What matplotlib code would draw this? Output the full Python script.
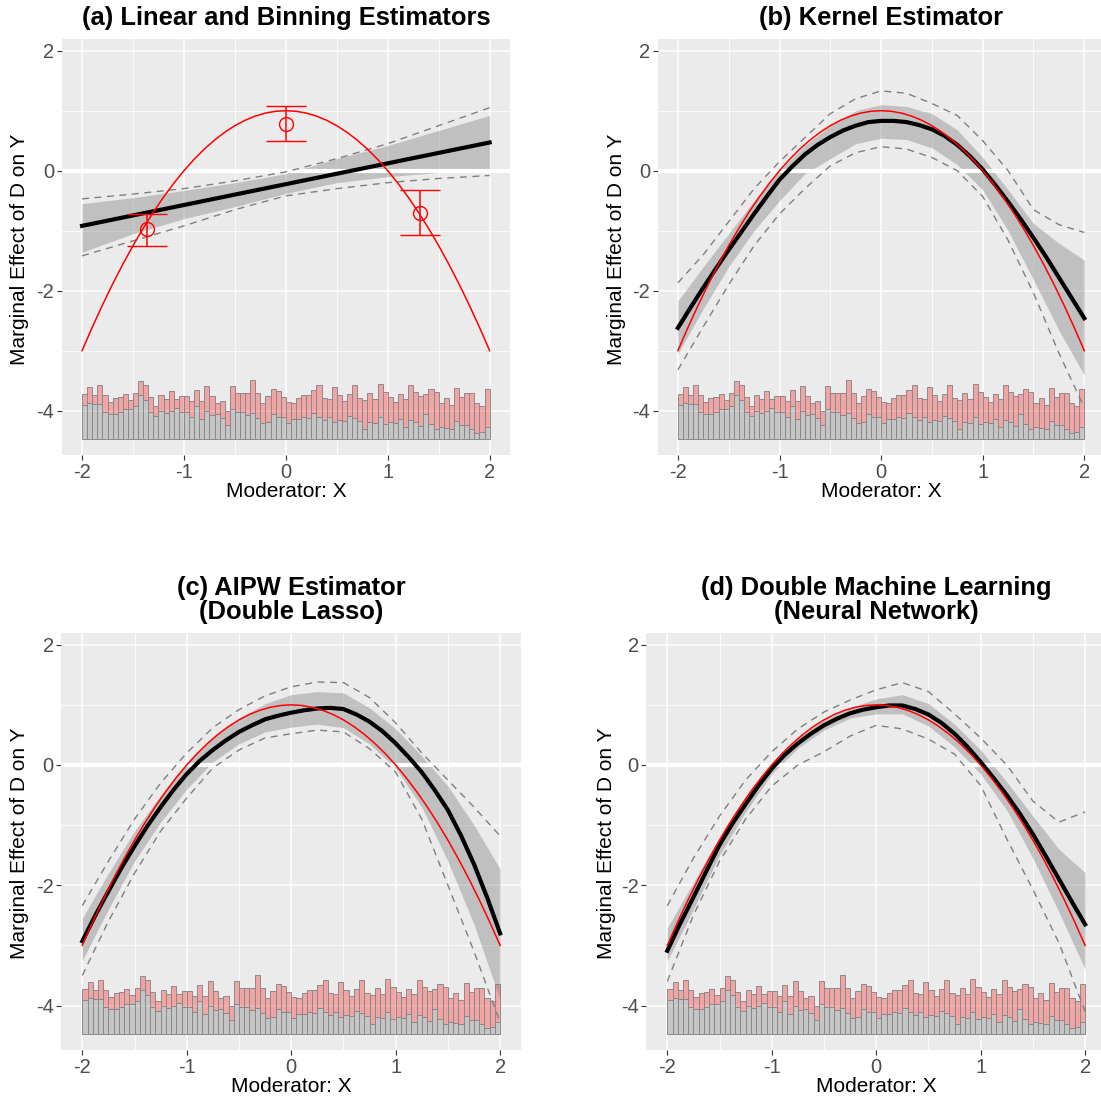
import numpy as np
import matplotlib
matplotlib.use("Agg")
import matplotlib.pyplot as plt

plt.rcParams['font.family'] = ['Liberation Sans', 'DejaVu Sans']

# ---- data ----
TITLES = ["(a) Linear and Binning Estimators", "(b) Kernel Estimator",
          "(c) AIPW Estimator\n(Double Lasso)",
          "(d) Double Machine Learning\n(Neural Network)"]

# true effect (red curve)
TRUE_X = [-2.0, -1.9, -1.8, -1.7, -1.6, -1.5, -1.4, -1.3, -1.2, -1.1, -1.0,
          -0.9, -0.8, -0.7, -0.6, -0.5, -0.4, -0.3, -0.2, -0.1, 0.0,
          0.1, 0.2, 0.3, 0.4, 0.5, 0.6, 0.7, 0.8, 0.9, 1.0,
          1.1, 1.2, 1.3, 1.4, 1.5, 1.6, 1.7, 1.8, 1.9, 2.0]
TRUE_Y = [-3.0, -2.61, -2.24, -1.89, -1.56, -1.25, -0.96, -0.69, -0.44, -0.21, 0.0,
          0.19, 0.36, 0.51, 0.64, 0.75, 0.84, 0.91, 0.96, 0.99, 1.0,
          0.99, 0.96, 0.91, 0.84, 0.75, 0.64, 0.51, 0.36, 0.19, 0.0,
          -0.21, -0.44, -0.69, -0.96, -1.25, -1.56, -1.89, -2.24, -2.61, -3.0]

# (a) linear estimator
A_LINE_X = [-2.0, 2.0]
A_LINE_Y = [-0.92, 0.47]
A_BAND_X = [-2.0, -1.5, -1.0, -0.5, 0.0, 0.5, 1.0, 1.5, 2.0]
A_BAND_UP = [-0.55, -0.45, -0.33, -0.2, -0.05, 0.2, 0.42, 0.67, 0.92]
A_BAND_LO = [-1.36, -1.05, -0.8, -0.6, -0.38, -0.2, -0.1, -0.03, 0.02]
A_DASH_UP = [-0.47, -0.39, -0.3, -0.17, -0.02, 0.2, 0.45, 0.75, 1.05]
A_DASH_LO = [-1.42, -1.17, -0.92, -0.65, -0.42, -0.3, -0.2, -0.13, -0.08]
# binning estimates
BIN_X = [-1.36, 0.0, 1.32]
BIN_Y = [-0.98, 0.78, -0.7]
BIN_LO = [-1.25, 0.5, -1.08]
BIN_HI = [-0.72, 1.07, -0.32]

# (b), (c), (d): point estimates on a fine grid
FINE_X = [-2.0, -1.875, -1.75, -1.625, -1.5, -1.375, -1.25, -1.125, -1.0,
          -0.875, -0.75, -0.625, -0.5, -0.375, -0.25, -0.125, 0.0,
          0.125, 0.25, 0.375, 0.5, 0.625, 0.75, 0.875, 1.0,
          1.125, 1.25, 1.375, 1.5, 1.625, 1.75, 1.875, 2.0]
B_EST = [-2.62, -2.28, -1.95, -1.63, -1.32, -1.02, -0.72, -0.43, -0.15,
         0.07, 0.27, 0.43, 0.56, 0.67, 0.75, 0.81, 0.83,
         0.83, 0.81, 0.76, 0.69, 0.58, 0.43, 0.24, 0.02,
         -0.24, -0.52, -0.81, -1.12, -1.44, -1.78, -2.12, -2.46]
C_EST = [-2.93, -2.5, -2.1, -1.71, -1.35, -1.01, -0.7, -0.41, -0.15,
         0.07, 0.25, 0.41, 0.55, 0.66, 0.76, 0.82, 0.87,
         0.91, 0.94, 0.95, 0.93, 0.84, 0.72, 0.56, 0.36,
         0.13, -0.12, -0.42, -0.75, -1.17, -1.65, -2.2, -2.8]
D_EST = [-3.09, -2.63, -2.2, -1.76, -1.33, -0.97, -0.65, -0.34, -0.06,
         0.17, 0.36, 0.52, 0.66, 0.77, 0.86, 0.92, 0.96,
         0.99, 0.99, 0.93, 0.84, 0.7, 0.52, 0.3, 0.05,
         -0.22, -0.5, -0.81, -1.15, -1.52, -1.9, -2.28, -2.65]

# confidence bands and dashed uniform bands, coarser grid
EST_X = [-2.0, -1.75, -1.5, -1.25, -1.0, -0.75, -0.5, -0.25, 0.0,
         0.25, 0.5, 0.75, 1.0, 1.25, 1.5, 1.75, 2.0]
B_UP = [-2.17, -1.6, -1.05, -0.5, 0.0, 0.42, 0.75, 1.0, 1.1,
        1.07, 0.95, 0.68, 0.22, -0.32, -0.88, -1.21, -1.49]
B_LO = [-3.05, -2.3, -1.6, -1.0, -0.5, -0.05, 0.2, 0.45, 0.54,
        0.52, 0.38, 0.1, -0.32, -1.0, -1.82, -2.66, -3.41]
B_DUP = [-1.87, -1.4, -0.85, -0.3, 0.15, 0.55, 0.95, 1.2, 1.33,
         1.29, 1.12, 0.92, 0.5, 0.0, -0.65, -0.9, -1.03]
B_DLO = [-3.32, -2.6, -1.9, -1.25, -0.72, -0.3, 0.08, 0.3, 0.4,
         0.36, 0.22, 0.0, -0.43, -1.16, -2.04, -3.04, -3.95]

C_UP = [-2.55, -1.8, -1.1, -0.5, 0.05, 0.45, 0.78, 1.02, 1.17,
        1.22, 1.2, 0.95, 0.6, 0.15, -0.35, -1.0, -1.73]
C_LO = [-3.25, -2.4, -1.6, -0.95, -0.4, 0.05, 0.35, 0.55, 0.63,
        0.68, 0.62, 0.35, -0.05, -0.7, -1.6, -2.65, -3.9]
C_DUP = [-2.34, -1.6, -0.9, -0.3, 0.2, 0.62, 0.92, 1.15, 1.3,
         1.38, 1.37, 1.12, 0.7, 0.2, -0.25, -0.7, -1.18]
C_DLO = [-3.5, -2.6, -1.8, -1.1, -0.55, -0.05, 0.25, 0.45, 0.52,
         0.58, 0.55, 0.27, -0.12, -0.9, -2.0, -3.1, -4.28]

D_UP = [-2.71, -1.95, -1.2, -0.52, 0.05, 0.45, 0.75, 0.95, 1.1,
        1.17, 1.02, 0.68, 0.25, -0.28, -0.85, -1.4, -1.79]
D_LO = [-3.26, -2.4, -1.5, -0.78, -0.15, 0.28, 0.58, 0.78, 0.85,
        0.85, 0.65, 0.3, -0.15, -0.75, -1.55, -2.45, -3.4]
D_DUP = [-2.34, -1.55, -0.85, -0.25, 0.22, 0.6, 0.88, 1.08, 1.25,
         1.37, 1.22, 0.85, 0.45, 0.0, -0.6, -0.95, -0.78]
D_DLO = [-3.6, -2.5, -1.6, -0.9, -0.35, 0.0, 0.22, 0.48, 0.66,
         0.6, 0.43, 0.18, -0.34, -1.23, -2.07, -2.96, -4.1]

# histogram of X (80 bins on [-2, 2]): treated (grey) and control (pink) counts
HIST_GREY = [103, 110, 105, 105, 83, 75, 75, 83, 90, 91,
             100, 132, 117, 83, 70, 86, 78, 84, 93, 83,
             81, 66, 100, 61, 84, 73, 75, 63, 43, 92,
             81, 81, 73, 78, 63, 50, 53, 75, 68, 68,
             48, 60, 60, 68, 63, 78, 68, 58, 66, 51,
             58, 55, 70, 63, 56, 32, 51, 50, 68, 45,
             53, 48, 62, 38, 57, 52, 41, 75, 45, 32,
             36, 34, 30, 56, 42, 42, 31, 18, 22, 36]
HIST_TOTAL = [136, 158, 132, 162, 132, 112, 123, 128, 135, 117,
              140, 176, 162, 128, 100, 132, 120, 144, 120, 130,
              130, 116, 148, 116, 160, 130, 108, 116, 86, 160,
              138, 138, 140, 178, 140, 108, 130, 150, 146, 128,
              113, 108, 123, 132, 132, 148, 164, 123, 121, 158,
              133, 115, 135, 164, 125, 119, 138, 120, 166, 143,
              126, 111, 136, 120, 162, 141, 131, 135, 151, 141,
              108, 123, 102, 153, 126, 138, 140, 108, 100, 151]
HIST_BASE = -4.48
HIST_UNIT = 1 / 180.0

W = H = 1101
fig = plt.figure(figsize=(W / 100, H / 100), dpi=100)
fig.patch.set_facecolor('white')


def add_panel(left, right, top, bottom):
    return fig.add_axes([left / W, 1 - bottom / H, (right - left) / W, (bottom - top) / H])


def style(ax):
    ax.set_facecolor('#EBEBEB')
    for s in ax.spines.values():
        s.set_visible(False)
    ax.set_xlim(-2.2, 2.2)
    ax.set_ylim(-4.74, 2.19)
    ax.set_xticks([-2, -1, 0, 1, 2])
    ax.set_xticklabels(['-2', '-1', '0', '1', '2'])
    ax.set_xticks([-1.5, -0.5, 0.5, 1.5], minor=True)
    ax.set_yticks([-4, -2, 0, 2])
    ax.set_yticklabels(['-4', '-2', '0', '2'])
    ax.set_yticks([-3, -1, 1], minor=True)
    ax.grid(True, which='major', color='white', lw=1.1)
    ax.grid(True, which='minor', color='white', lw=0.55)
    ax.set_axisbelow(True)
    ax.tick_params(which='major', length=3.5, width=0.8, color='#333333',
                   labelcolor='#4D4D4D', labelsize=14.5, pad=2)
    ax.tick_params(which='minor', length=0)
    ax.axhline(0, color='white', lw=3, zorder=2.5)
    ax.set_xlabel('Moderator: X', fontsize=15, labelpad=0)


def draw_hist(ax):
    edges = np.linspace(-2, 2, len(HIST_GREY) + 1)
    grey = np.array(HIST_GREY) * HIST_UNIT
    pink = (np.array(HIST_TOTAL) - np.array(HIST_GREY)) * HIST_UNIT
    ax.bar(edges[:-1], grey, width=0.05, bottom=HIST_BASE, align='edge',
           color=(0.5, 0.5, 0.5, 0.35), edgecolor='#8a8a8a', lw=0.7, zorder=1.5)
    ax.bar(edges[:-1], pink, width=0.05, bottom=HIST_BASE + grey, align='edge',
           color=(1, 0, 0, 0.3), edgecolor='#8a8a8a', lw=0.7, zorder=1.5)


def draw_est(ax, est, lo, up, dlo, dup):
    ax.fill_between(EST_X, lo, up, color=(0.5, 0.5, 0.5, 0.4), lw=0, zorder=2)
    ax.plot(EST_X, dup, color='#7f7f7f', lw=1.0, dashes=(5, 4), zorder=3)
    ax.plot(EST_X, dlo, color='#7f7f7f', lw=1.0, dashes=(5, 4), zorder=3)
    ax.plot(TRUE_X, TRUE_Y, color='red', lw=1.1, zorder=3.2)
    ax.plot(FINE_X, est, color='black', lw=3.0, zorder=3.1, solid_joinstyle='round')


axA = add_panel(61.7, 510, 39.3, 455)
axB = add_panel(657.6, 1104.6, 39.3, 455)
axC = add_panel(61.4, 521, 633.3, 1050)
axD = add_panel(646.4, 1106, 633.3, 1050)

for ax in (axA, axB, axC, axD):
    style(ax)
    draw_hist(ax)

# panel (a)
axA.fill_between(A_BAND_X, A_BAND_LO, A_BAND_UP, color=(0.5, 0.5, 0.5, 0.4), lw=0, zorder=2)
axA.plot(A_BAND_X, A_DASH_UP, color='#7f7f7f', lw=1.0, dashes=(5, 4), zorder=3)
axA.plot(A_BAND_X, A_DASH_LO, color='#7f7f7f', lw=1.0, dashes=(5, 4), zorder=3)
axA.plot(TRUE_X, TRUE_Y, color='red', lw=1.1, zorder=3.2)
axA.plot(A_LINE_X, A_LINE_Y, color='black', lw=3.0, zorder=3.1)
yerr = [np.array(BIN_Y) - np.array(BIN_LO), np.array(BIN_HI) - np.array(BIN_Y)]
axA.errorbar(BIN_X, BIN_Y, yerr=yerr, fmt='o', color='red', mfc='none', mec='red',
             ms=10, mew=1.0, elinewidth=1.1, capsize=14.5, capthick=1.1, zorder=4)

draw_est(axB, B_EST, B_LO, B_UP, B_DLO, B_DUP)
draw_est(axC, C_EST, C_LO, C_UP, C_DLO, C_DUP)
draw_est(axD, D_EST, D_LO, D_UP, D_DLO, D_DUP)

# titles and y labels
for ax, title, (cx, ty), (lx, ly) in [
        (axA, TITLES[0], (286, 18), (20, 249)),
        (axB, TITLES[1], (881, 18), (616, 249)),
        (axC, TITLES[2], (291, 600), (20, 843)),
        (axD, TITLES[3], (876, 600), (606, 843))]:
    fig.text(cx / W, 1 - ty / H, title, ha='center', va='center',
             fontsize=18.4, fontweight='bold', linespacing=1.0)
    fig.text(lx / W, 1 - ly / H, 'Marginal Effect of D on Y', rotation=90,
             ha='center', va='center', fontsize=15)

fig.savefig('out.png', dpi=100)
